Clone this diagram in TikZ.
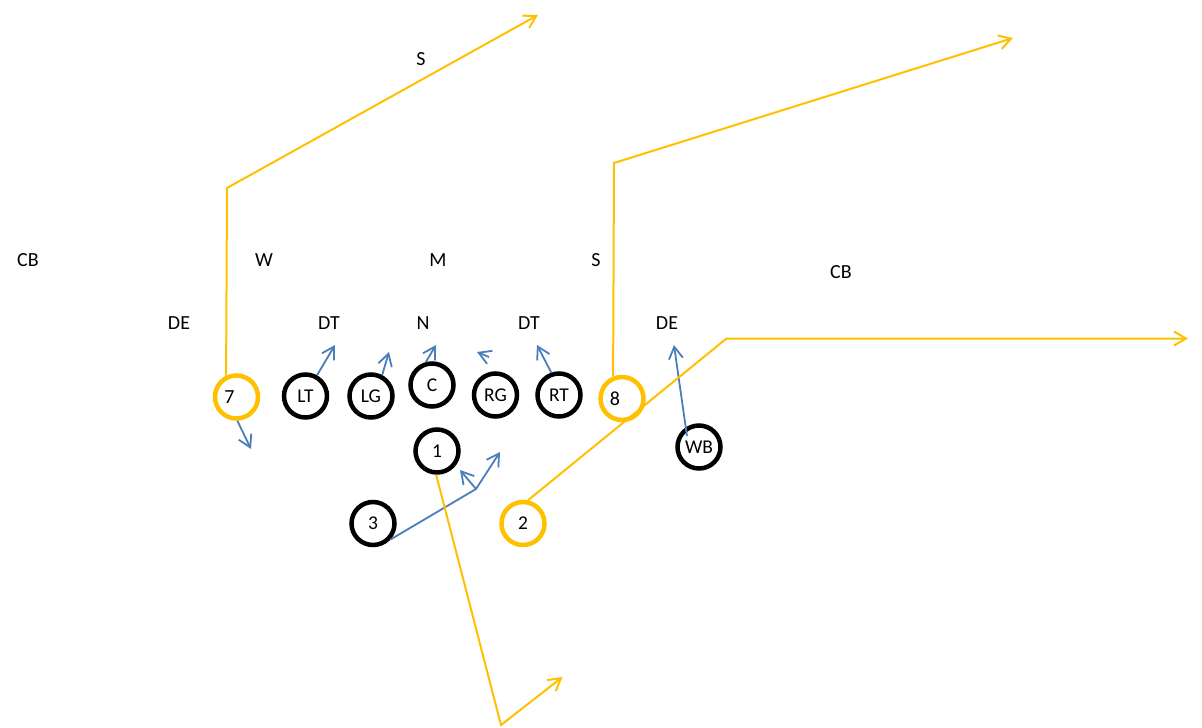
\documentclass[tikz,border=0pt]{standalone}
\usepackage{fontspec}
\setmainfont{Carlito}
\usetikzlibrary{arrows.meta}
\definecolor{play}{HTML}{FFC000}
\definecolor{block}{HTML}{4A7EBB}
\tikzset{
  lbl/.style={inner sep=0pt, font=\fontsize{20}{22}\selectfont},
  player/.style={circle, draw=black, line width=4.5pt, minimum size=43pt, inner sep=0pt, font=\fontsize{19.5}{21}\selectfont},
  oplayer/.style={player, draw=play},
  route/.style={draw=play, line width=2pt, -{Straight Barb[length=12pt,width=14pt,line width=2pt]}},
  blk/.style={draw=block, line width=1.8pt, -{Straight Barb[length=12pt,width=14pt,line width=1.8pt]}},
}
\begin{document}
\begin{tikzpicture}[x=1pt,y=-1pt]
\useasboundingbox (0,0) rectangle (1202,728);
% defense labels
\node[lbl] (s1) at (421,59) {S};
\node[lbl] (cb1) at (28,260) {CB};
\node[lbl] (w) at (264,260) {W};
\node[lbl] (m) at (438,260) {M};
\node[lbl] (s2) at (596,260) {S};
\node[lbl] (cb2) at (841,272) {CB};
\node[lbl] (de1) at (179,323) {DE};
\node[lbl] (dt1) at (329,323) {DT};
\node[lbl] (n) at (423,323) {N};
\node[lbl] (dt2) at (529,323) {DT};
\node[lbl] (de2) at (667,323) {DE};
% offense
\node[oplayer, label={[lbl, xshift=-7pt]center:7}] (n7) at (236.5,397) {};
\node[player] (lt) at (305.5,396) {LT};
\node[player] (lg) at (371,396) {LG};
\node[player] (c) at (432,385) {C};
\node[player] (rg) at (495.5,395) {RG};
\node[player] (rt) at (559,395) {RT};
\node[oplayer, label={[lbl, xshift=-7pt]center:8}] (n8) at (622,398.5) {};
\node[player] (wb) at (699,447) {WB};
\node[player] (n1) at (437,451) {1};
\node[player] (n3) at (373,523.5) {3};
\node[oplayer] (n2) at (523,523.5) {2};
% route coordinates
\coordinate (o7a) at (227,188);
\coordinate (o7b) at (538,15);
\coordinate (o8a) at (614,163);
\coordinate (o8b) at (1013,38);
\coordinate (o2a) at (726.5,338.5);
\coordinate (o2b) at (1188,338.5);
\coordinate (o1a) at (501,725);
\coordinate (o1b) at (562.5,677);
% block coordinates
\coordinate (b7) at (251,449);
\coordinate (blt) at (335,345);
\coordinate (blg) at (389,352);
\coordinate (bc) at (436,345);
\coordinate (brg0) at (489,357);
\coordinate (brg) at (477,352);
\coordinate (brt) at (537,345);
\coordinate (bwb0) at (687,436);
\coordinate (bwb) at (674,345);
\coordinate (k3) at (476,489);
\coordinate (b3a) at (500,452);
\coordinate (b3b) at (460,470);
% blocks
\draw[blk] (n7.-88) -- (b7);
\draw[blk] (lt.61) -- (blt);
\draw[blk] (lg.62) -- (blg);
\draw[blk] (c.105) -- (bc);
\draw[blk] (brg0) -- (brg);
\draw[blk] (rt.109) -- (brt);
\draw[blk] (bwb0) -- (bwb);
\draw[blk] (n3.-42) -- (k3) -- (b3a);
\draw[blk] (k3) -- (b3b);
% routes
\draw[route] (n7.116) -- (o7a) -- (o7b);
\draw[route] (n8.112) -- (o8a) -- (o8b);
\draw[route] (n2.78) -- (o2a) -- (o2b);
\draw[route] (n1.-92) -- (o1a) -- (o1b);
\end{tikzpicture}
\end{document}
